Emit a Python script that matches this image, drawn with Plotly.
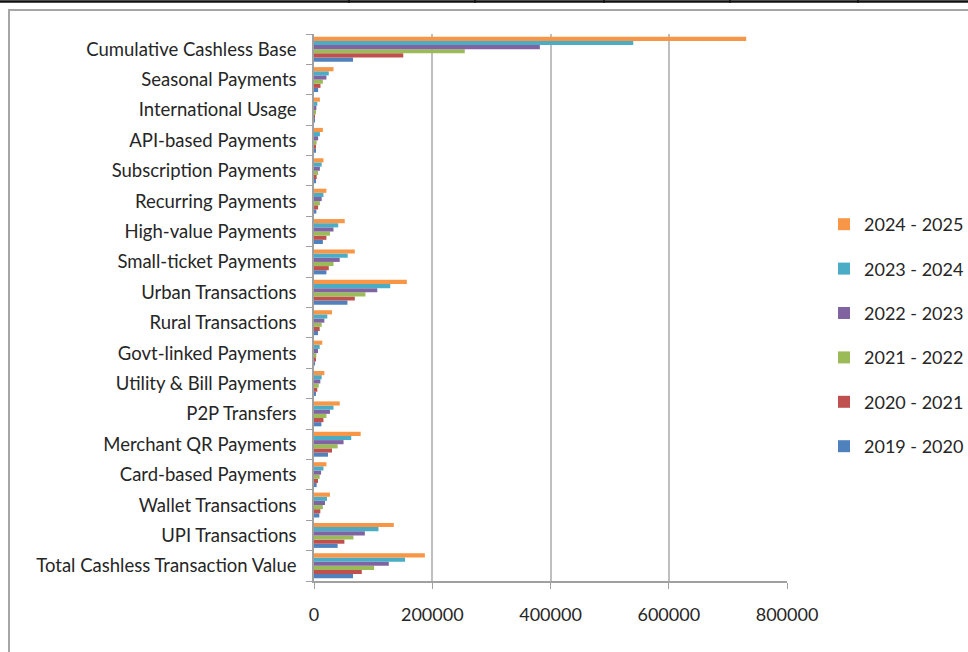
import plotly.graph_objects as go

categories = [
    "Total Cashless Transaction Value", "UPI Transactions", "Wallet Transactions",
    "Card-based Payments", "Merchant QR Payments", "P2P Transfers",
    "Utility & Bill Payments", "Govt-linked Payments", "Rural Transactions",
    "Urban Transactions", "Small-ticket Payments", "High-value Payments",
    "Recurring Payments", "Subscription Payments", "API-based Payments",
    "International Usage", "Seasonal Payments", "Cumulative Cashless Base",
]

series_names = ["2019 - 2020", "2020 - 2021", "2021 - 2022",
                "2022 - 2023", "2023 - 2024", "2024 - 2025"]

v_2019_2020 = [66000, 40000, 9000, 4500, 23700, 12500, 3400, 1100, 6800,
               56500, 21000, 15000, 4000, 3000, 2000, 500, 7000, 66000]
v_2020_2021 = [80800, 51400, 10700, 6800, 30500, 16000, 5600, 2300, 9600,
               69000, 25000, 21000, 7000, 4500, 3000, 1000, 11000, 151000]
v_2021_2022 = [101700, 66700, 15000, 9600, 40000, 21000, 8000, 4000, 13000,
               87000, 33000, 27000, 10000, 7000, 4500, 2000, 15000, 255000]
v_2022_2023 = [126500, 86000, 18600, 12000, 50000, 27000, 10700, 6800, 17500,
               107000, 43500, 33000, 13000, 10000, 7000, 4000, 21000, 382000]
v_2023_2024 = [154000, 109000, 22000, 16000, 63000, 33000, 13000, 9600, 22500,
               129000, 57000, 41000, 16000, 13000, 10000, 5600, 25000, 540000]
v_2024_2025 = [187500, 135000, 27000, 21000, 79000, 43500, 17500, 14000, 30500,
               157000, 69000, 52000, 21000, 16000, 15000, 10000, 33000, 731000]

x_ticks = [0, 200000, 400000, 600000, 800000]

series_values = [v_2019_2020, v_2020_2021, v_2021_2022,
                 v_2022_2023, v_2023_2024, v_2024_2025]
colors = ["#4F81BD", "#C0504D", "#9BBB59", "#8064A2", "#4BACC6", "#F79646"]

FONT = "Lato, Open Sans, sans-serif"

fig = go.Figure()
n = len(series_names)
for i, (name, vals, col) in enumerate(zip(series_names, series_values, colors)):
    fig.add_trace(go.Bar(
        y=categories, x=vals, name=name, orientation="h",
        marker=dict(color=col, line=dict(width=0)),
        legendgroup=name, legendrank=n - i,
    ))

W, H = 968, 652
L, R, T, B = 314, 787, 34, 581


def px(x):
    return (x - L) / (R - L)


def py(y):
    return (B - y) / (B - T)


shapes = [
    # outer chart frame
    dict(type="rect", xref="paper", yref="paper",
         x0=px(9), x1=px(990), y0=py(10), y1=py(680),
         line=dict(color="#a6a6a6", width=2), fillcolor="rgba(0,0,0,0)", layer="below"),
    # table line at top
    dict(type="line", xref="paper", yref="paper",
         x0=px(0), x1=px(968), y0=py(1.5), y1=py(1.5),
         line=dict(color="#111111", width=2.5)),
]
for xv in [349, 475, 604, 730, 858]:
    shapes.append(dict(type="line", xref="paper", yref="paper",
                       x0=px(xv), x1=px(xv), y0=py(0), y1=py(3),
                       line=dict(color="#111111", width=1.5)))

fig.update_layout(
    width=W, height=H, autosize=False,
    margin=dict(l=L, r=W - R, t=T, b=H - B, pad=0, autoexpand=False),
    paper_bgcolor="white", plot_bgcolor="white",
    barmode="group", bargap=0.18, bargroupgap=0,
    font=dict(family=FONT, size=18, color="#262626"),
    showlegend=True,
    legend=dict(
        x=px(824), xanchor="left", y=py(206), yanchor="top",
        traceorder="grouped", tracegroupgap=18,
        font=dict(family=FONT, size=18, color="#262626"),
        bgcolor="rgba(0,0,0,0)", itemwidth=30,
    ),
    shapes=shapes,
    xaxis=dict(
        range=[0, 800000], tickvals=x_ticks, ticktext=[str(v) for v in x_ticks],
        showgrid=True, gridcolor="#bfbfbf", gridwidth=1.5,
        showline=True, linecolor="#a0a0a0", linewidth=1.5,
        ticks="outside", ticklen=6, tickcolor="#a0a0a0",
        zeroline=False, ticklabelstandoff=11,
        tickfont=dict(family=FONT, size=18, color="#262626"),
    ),
    yaxis=dict(
        type="category", categoryorder="array", categoryarray=categories,
        showline=True, linecolor="#a0a0a0", linewidth=1.5,
        ticks="outside", ticklen=6, tickcolor="#a0a0a0", tickson="boundaries",
        showgrid=False, ticklabelstandoff=12,
        tickfont=dict(family=FONT, size=18.5, color="#262626"),
    ),
)

fig.write_html(
    "out.html",
    config={"displayModeBar": False},
    post_script="document.body.style.margin='0';document.body.style.padding='0';"
                "document.body.style.overflow='hidden';",
)
